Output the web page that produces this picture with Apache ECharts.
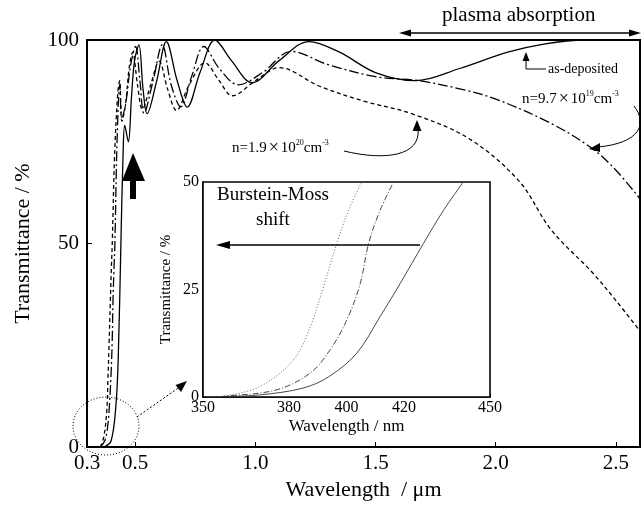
<!DOCTYPE html>
<html><head><meta charset="utf-8">
<script src="https://cdn.jsdelivr.net/npm/echarts@6/dist/echarts.min.js"></script>
<style>html,body{margin:0;padding:0;background:#fff}#c{width:641px;height:506px}</style>
</head><body><div id="c"></div><script>
// ---- tick labels ----
const xTickLabels = [0.3, 0.5, 1.0, 1.5, 2.0, 2.5];
const yTickLabels = [0, 50, 100];
const insetXTickLabels = [350, 380, 400, 420, 450];
const insetYTickLabels = [0, 25, 50];

// ---- main chart series: [wavelength (um), transmittance (%)] ----
const asDeposited = [[0.37,0],[0.40,1.5],[0.42,10],[0.43,22],[0.441,50],[0.45,72],[0.457,79],[0.472,75],[0.485,86],[0.498,95],[0.516,98.8],[0.533,88],[0.55,81.9],[0.59,90],[0.63,99.6],[0.675,90],[0.717,83.5],[0.77,92],[0.832,100],[0.9,95],[0.987,89.5],[1.1,95],[1.223,99.6],[1.35,97],[1.5,92],[1.666,90],[1.85,93],[2.05,97],[2.2,99],[2.37,100],[2.6,100]];
const n97e19 = [[0.355,0],[0.375,1.7],[0.387,5.6],[0.394,11],[0.400,17.9],[0.405,26.4],[0.408,35.7],[0.412,43.4],[0.416,50],[0.425,75],[0.436,89],[0.445,81],[0.46,84],[0.482,94],[0.502,98.4],[0.52,90],[0.537,82],[0.575,90],[0.613,98.8],[0.65,89],[0.69,83.6],[0.735,91],[0.786,98.4],[0.85,93],[0.93,89],[1.03,92],[1.15,97.2],[1.3,94],[1.5,91],[1.68,90],[1.85,88],[2.0,85.5],[2.23,79.5],[2.4,73.4],[2.5,68],[2.6,61]];
const n19e20 = [[0.355,0],[0.37,2.5],[0.382,8.7],[0.387,16.4],[0.392,25.7],[0.397,35.7],[0.401,43.4],[0.405,50],[0.415,72],[0.428,87],[0.436,90],[0.445,80],[0.46,84],[0.475,93],[0.49,97],[0.51,89],[0.53,83],[0.565,89],[0.60,94.8],[0.635,88],[0.672,82.7],[0.725,89],[0.79,94.4],[0.85,90],[0.904,86.3],[1.0,90],[1.1,93.2],[1.265,88.7],[1.45,85],[1.65,81.9],[1.888,75.8],[2.096,65.4],[2.23,53.4],[2.4,43],[2.5,36],[2.6,28.5]];

// ---- inset series: [wavelength (nm), transmittance (%)] ----
const insetAsDeposited = [[352,0],[358,0.1],[370,0.5],[385,2.1],[394,4.8],[403.6,10.2],[411.7,18.7],[418.7,26.4],[426.8,35.7],[433.8,43.4],[440.7,50]];
const insetN97e19 = [[352,0],[358,0.2],[375.8,1.7],[387.4,5.6],[394.3,11],[400.1,17.9],[404.8,26.4],[407.7,35.7],[411.7,43.4],[416.4,50]];
const insetN19e20 = [[352,0],[358,0.3],[370,2.5],[381.6,8.7],[387.4,16.4],[392,25.7],[396.6,35.7],[400.7,43.4],[405.3,50]];

const FF = '"Liberation Serif","DejaVu Serif",serif';
const black = '#000';

function lineSeries(name, data, xi, dash, width, color) {
  return {
    name, type: 'line', data, xAxisIndex: xi, yAxisIndex: xi,
    showSymbol: false, symbol: 'none', smooth: 0.35, animation: false,
    lineStyle: { color: color || black, width: width, type: dash },
    z: 3
  };
}

const richN = {
  a: { fontFamily: FF, fontSize: 15, fill: black, lineHeight: 18 },
  x: { fontFamily: FF, fontSize: 18, fill: black, lineHeight: 18, padding: [0, 2, 0, 2] },
  s: { fontFamily: FF, fontSize: 8, fill: black, verticalAlign: 'top', lineHeight: 9 }
};

const chart = echarts.init(document.getElementById('c'));
const option = {
  animation: false,
  backgroundColor: '#fff',
  grid: [
    { left: 87, top: 40, width: 553, height: 414, show: true, borderColor: black, borderWidth: 2, backgroundColor: 'transparent' },
    { left: 203, top: 182, width: 287, height: 215, show: true, borderColor: black, borderWidth: 1.6, backgroundColor: '#fff', z: 4 }
  ],
  xAxis: [
    {
      type: 'value', gridIndex: 0, min: 0.3, max: 2.6,
      axisLine: { show: true, lineStyle: { color: black, width: 2 } },
      axisTick: { show: true, inside: true, length: 5, customValues: xTickLabels, lineStyle: { color: black, width: 1 } },
      axisLabel: { customValues: xTickLabels, formatter: v => v.toFixed(1), fontFamily: FF, fontSize: 21, color: black, margin: 6 },
      splitLine: { show: false },
      name: 'Wavelength  / μm', nameLocation: 'middle', nameGap: 28,
      nameTextStyle: { fontFamily: FF, fontSize: 22, color: black }
    },
    {
      type: 'value', gridIndex: 1, min: 350, max: 450,
      axisLine: { show: true, lineStyle: { color: black, width: 1.6 } },
      axisTick: { show: true, inside: true, length: 3, customValues: insetXTickLabels, lineStyle: { color: black } },
      axisLabel: { customValues: insetXTickLabels, fontFamily: FF, fontSize: 16, color: black, margin: 3 },
      splitLine: { show: false },
      name: 'Wavelength / nm', nameLocation: 'middle', nameGap: 21,
      nameTextStyle: { fontFamily: FF, fontSize: 17, color: black }
    }
  ],
  yAxis: [
    {
      type: 'value', gridIndex: 0, min: 0, max: 100, interval: 50,
      axisLine: { show: true, lineStyle: { color: black, width: 2 } },
      axisTick: { show: true, inside: true, length: 5, lineStyle: { color: black } },
      axisLabel: { customValues: yTickLabels, fontFamily: FF, fontSize: 21, color: black, margin: 8 },
      splitLine: { show: false },
      name: 'Transmittance / %', nameLocation: 'middle', nameGap: 53,
      nameTextStyle: { fontFamily: FF, fontSize: 22, color: black }
    },
    {
      type: 'value', gridIndex: 1, min: 0, max: 50, interval: 25,
      axisLine: { show: true, lineStyle: { color: black, width: 1.6 } },
      axisTick: { show: true, inside: true, length: 3, lineStyle: { color: black } },
      axisLabel: { customValues: insetYTickLabels, fontFamily: FF, fontSize: 16, color: black, margin: 4 },
      splitLine: { show: false },
      name: 'Transmittance / %', nameLocation: 'middle', nameGap: 29,
      nameTextStyle: { fontFamily: FF, fontSize: 15, color: black }
    }
  ],
  series: [
    lineSeries('as-deposited', asDeposited, 0, 'solid', 1.3),
    lineSeries('n=9.7e19', n97e19, 0, [10, 3, 2, 3], 1.3),
    lineSeries('n=1.9e20', n19e20, 0, [4, 3], 1.3),
    Object.assign(lineSeries('inset as-deposited', insetAsDeposited, 1, 'solid', 0.9, '#333'), { z: 6 }),
    Object.assign(lineSeries('inset n=9.7e19', insetN97e19, 1, [6, 2, 1, 2], 0.9, '#333'), { z: 6 }),
    Object.assign(lineSeries('inset n=1.9e20', insetN19e20, 1, [1, 2], 0.9, '#555'), { z: 6 })
  ],
  graphic: [
    // plasma absorption
    { type: 'text', left: 442, top: 5, z: 10, style: { text: 'plasma absorption', font: '21px ' + FF, fill: black } },
    { type: 'line', z: 10, shape: { x1: 404, y1: 33, x2: 636, y2: 33 }, style: { stroke: black, lineWidth: 1.3 } },
    { type: 'polygon', z: 10, shape: { points: [[399, 33], [411, 29.5], [411, 36.5]] }, style: { fill: black } },
    { type: 'polygon', z: 10, shape: { points: [[641, 33], [629, 29.5], [629, 36.5]] }, style: { fill: black } },
    // as-deposited label
    { type: 'text', z: 10, x: 548, y: 69, style: { text: 'as-deposited', font: '14px ' + FF, fill: black, verticalAlign: 'middle' } },
    { type: 'polyline', z: 10, shape: { points: [[546, 69], [526, 69], [526, 59]] }, style: { stroke: black, lineWidth: 1, fill: null } },
    { type: 'polygon', z: 10, shape: { points: [[526, 52], [522.5, 61], [529.5, 61]] }, style: { fill: black } },
    // n=9.7e19 label
    { type: 'text', z: 10, x: 522, y: 99, style: { text: '{a|n=9.7}{x|×}{a|10}{s|19}{a|cm}{s|-3}', verticalAlign: 'middle', rich: richN } },
    { type: 'bezierCurve', z: 10, shape: { x1: 634, y1: 106, cpx1: 648, cpy1: 124, cpx2: 640, cpy2: 143, x2: 598, y2: 147 }, style: { stroke: black, lineWidth: 1, fill: null } },
    { type: 'polygon', z: 10, shape: { points: [[589, 149], [600, 143], [600, 152]] }, style: { fill: black } },
    // n=1.9e20 label
    { type: 'text', z: 10, x: 232, y: 148, style: { text: '{a|n=1.9}{x|×}{a|10}{s|20}{a|cm}{s|-3}', verticalAlign: 'middle', rich: richN } },
    { type: 'bezierCurve', z: 10, shape: { x1: 344, y1: 151, cpx1: 385, cpy1: 161, cpx2: 421, cpy2: 156, x2: 418, y2: 129 }, style: { stroke: black, lineWidth: 1, fill: null } },
    { type: 'polygon', z: 10, shape: { points: [[417, 120], [412.5, 131], [421.5, 131]] }, style: { fill: black } },
    // big upward arrow
    { type: 'polygon', z: 10, shape: { points: [[133, 153], [122, 181], [130, 181], [130, 199], [136, 199], [136, 181], [145, 181]] }, style: { fill: black } },
    // dotted ellipse + dotted arrow to inset
    { type: 'ellipse', z: 10, shape: { cx: 106, cy: 426, rx: 33, ry: 29 }, style: { fill: null, stroke: black, lineWidth: 1, lineDash: [1, 2] } },
    { type: 'line', z: 10, shape: { x1: 137, y1: 417, x2: 181, y2: 386 }, style: { stroke: black, lineWidth: 1, lineDash: [2, 2] } },
    { type: 'polygon', z: 10, shape: { points: [[187, 381], [175.5, 385], [181, 392]] }, style: { fill: black } },
    // inset annotation
    { type: 'text', z: 10, x: 273, y: 183, style: { text: 'Burstein-Moss\nshift', font: '19px ' + FF, fill: black, align: 'center', lineHeight: 25 } },
    { type: 'line', z: 10, shape: { x1: 420, y1: 245, x2: 226, y2: 245 }, style: { stroke: black, lineWidth: 1.3 } },
    { type: 'polygon', z: 10, shape: { points: [[216, 245], [230, 241], [230, 249]] }, style: { fill: black } }
  ]
};
chart.setOption(option);
</script></body></html>
